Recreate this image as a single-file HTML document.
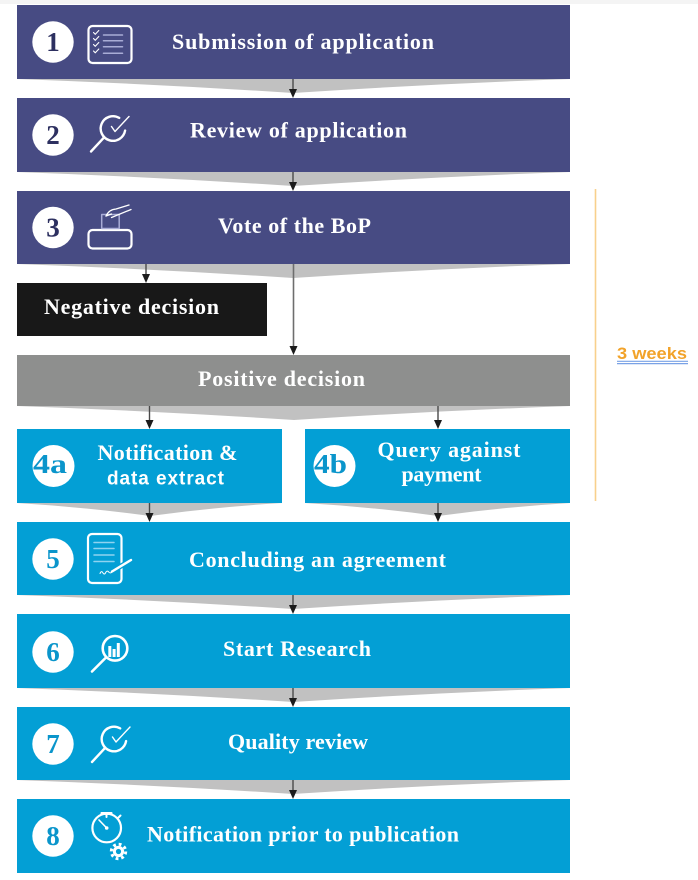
<!DOCTYPE html>
<html>
<head>
<meta charset="utf-8">
<style>
  html,body{margin:0;padding:0;background:#fff;}
  svg{display:block;}
  .t{font-family:"Liberation Serif",serif;font-weight:bold;fill:#fff;font-size:22px;}
  .n{font-family:"Liberation Serif",serif;font-weight:bold;font-size:27px;text-anchor:middle;}
</style>
</head>
<body>
<svg width="698" height="880" viewBox="0 0 698 880" xmlns="http://www.w3.org/2000/svg">
  <rect x="0" y="0" width="698" height="880" fill="#ffffff"/>
  <rect x="0" y="0" width="698" height="4" fill="#f4f4f4"/>

  <!-- chevrons -->
  <g fill="#c1c1c1">
    <path d="M17 79 L570 79 Q431 84 293 93 Q155 84 17 79 Z"/>
    <path d="M17 172 L570 172 Q431 177 293 186 Q155 177 17 172 Z"/>
    <path d="M17 264 L570 264 Q431 269 293 278 Q155 269 17 264 Z"/>
    <path d="M17 406 L570 406 Q432 411 294 420 Q156 411 17 406 Z"/>
    <path d="M17 503 L282 503 Q216 507 150 516 Q84 507 17 503 Z"/>
    <path d="M305 503 L570 503 Q504 507 438 516 Q372 507 305 503 Z"/>
    <path d="M17 595 L570 595 Q431 600 293 609 Q155 600 17 595 Z"/>
    <path d="M17 688 L570 688 Q431 693 293 702 Q155 693 17 688 Z"/>
    <path d="M17 780 L570 780 Q431 785 293 794 Q155 785 17 780 Z"/>
  </g>

  <!-- bars -->
  <rect x="17" y="5" width="553" height="74" fill="#474b83"/>
  <rect x="17" y="98" width="553" height="74" fill="#474b83"/>
  <rect x="17" y="191" width="553" height="73" fill="#474b83"/>
  <rect x="17" y="283" width="250" height="53" fill="#181818"/>
  <rect x="17" y="355" width="553" height="51" fill="#8e8f8e"/>
  <rect x="17" y="429" width="265" height="74" fill="#039fd5"/>
  <rect x="305" y="429" width="265" height="74" fill="#039fd5"/>
  <rect x="17" y="522" width="553" height="73" fill="#039fd5"/>
  <rect x="17" y="614" width="553" height="74" fill="#039fd5"/>
  <rect x="17" y="707" width="553" height="73" fill="#039fd5"/>
  <rect x="17" y="799" width="553" height="74" fill="#039fd5"/>

  <!-- arrows -->
  <g stroke="#4a4a4a" stroke-width="1.4">
    <line x1="293" y1="79" x2="293" y2="90"/>
    <line x1="293" y1="172" x2="293" y2="183"/>
    <line x1="293.5" y1="264" x2="293.5" y2="347" stroke="#6e6e6e" stroke-width="1.6"/>
    <line x1="146" y1="264" x2="146" y2="275"/>
    <line x1="149.5" y1="406" x2="149.5" y2="421"/>
    <line x1="438" y1="406" x2="438" y2="421"/>
    <line x1="149.5" y1="503" x2="149.5" y2="514"/>
    <line x1="438" y1="503" x2="438" y2="514"/>
    <line x1="293" y1="595" x2="293" y2="606"/>
    <line x1="293" y1="688" x2="293" y2="699"/>
    <line x1="293" y1="780" x2="293" y2="791"/>
  </g>
  <g fill="#1c1c1c">
    <polygon points="289,89 297,89 293,98"/>
    <polygon points="289,182 297,182 293,191"/>
    <polygon points="289.5,346 297.5,346 293.5,355"/>
    <polygon points="142,274 150,274 146,283"/>
    <polygon points="145.5,420 153.5,420 149.5,429"/>
    <polygon points="434,420 442,420 438,429"/>
    <polygon points="145.5,513 153.5,513 149.5,522"/>
    <polygon points="434,513 442,513 438,522"/>
    <polygon points="289,605 297,605 293,614"/>
    <polygon points="289,698 297,698 293,707"/>
    <polygon points="289,790 297,790 293,799"/>
  </g>

  <!-- number circles -->
  <g fill="#ffffff">
    <circle cx="53" cy="42" r="20.7"/>
    <circle cx="53" cy="135" r="20.7"/>
    <circle cx="53" cy="227.5" r="20.7"/>
    <circle cx="53.5" cy="466" r="21"/>
    <circle cx="334.5" cy="466" r="21"/>
    <circle cx="53" cy="559" r="20.7"/>
    <circle cx="53" cy="652" r="20.7"/>
    <circle cx="53" cy="744" r="20.7"/>
    <circle cx="53" cy="836" r="20.7"/>
  </g>
  <g class="n">
    <text x="53" y="51" fill="#2d3060">1</text>
    <text x="53" y="144" fill="#2d3060">2</text>
    <text x="53" y="236.5" fill="#2d3060">3</text>
    <text x="53" y="568" fill="#0a95cb">5</text>
    <text x="53" y="661" fill="#0a95cb">6</text>
    <text x="53" y="753" fill="#0a95cb">7</text>
    <text x="53" y="845" fill="#0a95cb">8</text>
  </g>
  <text x="33" y="473" font-family="Liberation Serif, serif" font-weight="bold" font-size="27" fill="#0a95cb" textLength="34" lengthAdjust="spacingAndGlyphs">4a</text>
  <text x="314" y="473" font-family="Liberation Serif, serif" font-weight="bold" font-size="27" fill="#0a95cb" textLength="33" lengthAdjust="spacingAndGlyphs">4b</text>

  <!-- main texts -->
  <text class="t" x="172" y="49" textLength="262" lengthAdjust="spacing">Submission of application</text>
  <text class="t" x="190" y="137.5" textLength="217" lengthAdjust="spacing">Review of application</text>
  <text class="t" x="218" y="233" textLength="153" lengthAdjust="spacing">Vote  of  the  BoP</text>
  <text class="t" x="44" y="314" textLength="175" lengthAdjust="spacing">Negative decision</text>
  <text class="t" x="198" y="386" textLength="167" lengthAdjust="spacing">Positive decision</text>
  <text class="t" x="97.5" y="460" font-size="21" textLength="140" lengthAdjust="spacing">Notification  &amp;</text>
  <text x="107" y="484.5" font-family="Liberation Sans, sans-serif" font-weight="bold" font-size="19" fill="#fff" textLength="117" lengthAdjust="spacing">data extract</text>
  <text class="t" x="377.5" y="457" font-size="21" textLength="143" lengthAdjust="spacing">Query against</text>
  <text class="t" x="401.5" y="481.5" font-size="21" textLength="80" lengthAdjust="spacing">payment</text>
  <text class="t" x="189" y="567" textLength="257" lengthAdjust="spacing">Concluding an agreement</text>
  <text class="t" x="223" y="656" textLength="148" lengthAdjust="spacing">Start Research</text>
  <text class="t" x="228" y="749" textLength="140" lengthAdjust="spacing">Quality  review</text>
  <text class="t" x="147" y="841.5" textLength="312" lengthAdjust="spacing">Notification  prior  to  publication</text>

  <!-- Icon 1: checklist -->
  <g fill="none" stroke-linecap="round" stroke-linejoin="round">
    <rect x="88.5" y="26" width="43" height="37" rx="4" stroke="#fff" stroke-width="2.2"/>
    <g stroke="#fff" stroke-width="1.1">
      <path d="M93.5 32.5 L95.3 34.3 L98.8 30.5"/>
      <path d="M93.5 38.5 L95.3 40.3 L98.8 36.5"/>
      <path d="M93.5 44.5 L95.3 46.3 L98.8 42.5"/>
      <path d="M93.5 51 L95.3 52.8 L98.8 49"/>
    </g>
    <g stroke="#a9acd6" stroke-width="1.5">
      <line x1="103.5" y1="35" x2="122.5" y2="35"/>
      <line x1="103.5" y1="40.7" x2="122.5" y2="40.7"/>
      <line x1="103.5" y1="46.7" x2="122.5" y2="46.7"/>
      <line x1="103.5" y1="53.3" x2="122.5" y2="53.3"/>
    </g>
  </g>

  <!-- Icon 2: magnifier check -->
  <g fill="none" stroke="#fff" stroke-linecap="round" stroke-linejoin="round">
    <path d="M125.1 130.6 A12.3 12.3 0 1 1 119.2 117.9" stroke-width="2.4"/>
    <line x1="104.3" y1="137.2" x2="91" y2="151.5" stroke-width="2.4"/>
    <path d="M111.5 126.5 L115 131.5 L129 116.5" stroke-width="1.4"/>
  </g>

  <!-- Icon 7: same magnifier check -->
  <g transform="translate(1,610.5)" fill="none" stroke="#fff" stroke-linecap="round" stroke-linejoin="round">
    <path d="M125.1 130.6 A12.3 12.3 0 1 1 119.2 117.9" stroke-width="2.4"/>
    <line x1="104.3" y1="137.2" x2="91" y2="151.5" stroke-width="2.4"/>
    <path d="M111.5 126.5 L115 131.5 L129 116.5" stroke-width="1.4"/>
  </g>

  <!-- Icon 3: ballot box -->
  <g fill="none" stroke-linecap="round" stroke-linejoin="round">
    <rect x="88.5" y="230" width="43" height="18.5" rx="4" stroke="#fff" stroke-width="2.2"/>
    <rect x="101.7" y="214.5" width="17.5" height="14" stroke="#a9acd6" stroke-width="1.5"/>
    <path d="M106 216 Q109 209.5 116 209 L129 205" stroke="#fff" stroke-width="1.3"/>
    <path d="M111.5 217.5 L131 209.5" stroke="#fff" stroke-width="1.3"/>
    <path d="M106 216 L111.5 214" stroke="#fff" stroke-width="1.3"/>
  </g>

  <!-- Icon 5: document with signature -->
  <g fill="none" stroke-linecap="round" stroke-linejoin="round">
    <rect x="88" y="534" width="33.5" height="49" rx="4" stroke="#fff" stroke-width="2.2"/>
    <g stroke="#8fd3f0" stroke-width="1.5">
      <line x1="94" y1="542.5" x2="114" y2="542.5"/>
      <line x1="94" y1="548.5" x2="114" y2="548.5"/>
      <line x1="94" y1="555" x2="114" y2="555"/>
      <line x1="94" y1="561.5" x2="114" y2="561.5"/>
    </g>
    <line x1="112" y1="571.5" x2="131" y2="560" stroke="#039fd5" stroke-width="5"/>
    <line x1="112" y1="571.5" x2="131" y2="560" stroke="#fff" stroke-width="2.4"/>
    <path d="M100 573.5 q1.5 -3.5 3 -0.5 q1.5 2.5 3 -1 q1.5 -2 3 0.3 q1.5 1.5 3.5 -0.8" stroke="#fff" stroke-width="1"/>
  </g>

  <!-- Icon 6: magnifier with bars -->
  <g fill="none" stroke="#fff" stroke-linecap="round">
    <circle cx="115" cy="648.3" r="12.3" stroke-width="2.6"/>
    <line x1="106" y1="657.5" x2="92" y2="671.5" stroke-width="2.6"/>
  </g>
  <g fill="#fff">
    <rect x="108.3" y="646" width="3" height="11"/>
    <rect x="112.6" y="649" width="3" height="8"/>
    <rect x="116.8" y="643" width="3" height="14"/>
  </g>

  <!-- Icon 8: stopwatch with gear -->
  <g fill="none" stroke="#fff" stroke-linecap="round">
    <circle cx="106.7" cy="828" r="14.3" stroke-width="2.2"/>
    <line x1="106.7" y1="828" x2="99" y2="820" stroke-width="1.6"/>
    <line x1="106.5" y1="813.7" x2="106.5" y2="817" stroke-width="2"/>
    <line x1="118.5" y1="817.5" x2="120.5" y2="815.5" stroke-width="2"/>
  </g>
  <rect x="100.5" y="812" width="12" height="3" rx="1" fill="#fff"/>
  <circle cx="106.7" cy="828" r="1.8" fill="#fff"/>
  <circle cx="118.5" cy="851.5" r="10" fill="#039fd5"/>
  <circle cx="118.5" cy="851.5" r="7.2" fill="none" stroke="#fff" stroke-width="3" stroke-dasharray="2.8 2.85"/>
  <circle cx="118.5" cy="851.5" r="5.6" fill="#fff"/>
  <circle cx="118.5" cy="851.5" r="2.6" fill="#039fd5"/>

  <!-- 3 weeks -->
  <line x1="595.5" y1="189" x2="595.5" y2="501" stroke="#f8d08c" stroke-width="1.6"/>
  <text x="617" y="359" font-family="Liberation Sans, sans-serif" font-weight="bold" font-size="17" fill="#f2a32a" textLength="70" lengthAdjust="spacingAndGlyphs">3 weeks</text>
  <line x1="617" y1="361.3" x2="688" y2="361.3" stroke="#7aa2e6" stroke-width="1.2"/>
  <line x1="617" y1="363.6" x2="688" y2="363.6" stroke="#7aa2e6" stroke-width="1.2"/>
</svg>
</body>
</html>
